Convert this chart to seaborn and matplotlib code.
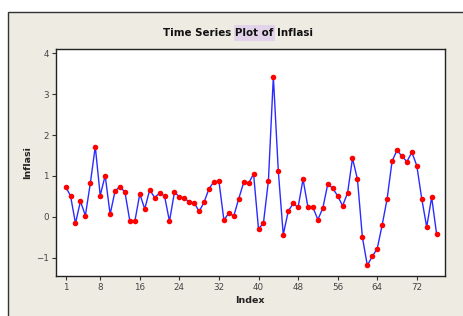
import matplotlib
matplotlib.use('Agg')
import matplotlib.pyplot as plt
import matplotlib.patches as patches
import seaborn as sns
import pandas as pd
import numpy as np

inflasi = [0.74, 0.51, -0.16, 0.38, 0.03, 0.82, 1.72, 0.52, 1.01, 0.06,
           0.63, 0.74, 0.60, -0.11, -0.11, 0.56, 0.19, 0.66, 0.47, 0.58,
           0.51, -0.11, 0.60, 0.49, 0.46, 0.36, 0.34, 0.13, 0.36, 0.69,
           0.86, 0.87, -0.08, 0.09, 0.02, 0.44, 0.84, 0.82, 1.05, -0.30,
           -0.15, 0.88, 3.43, 1.12, -0.44, 0.13, 0.33, 0.23, 0.92, 0.23,
           0.23, -0.07, 0.21, 0.80, 0.70, 0.51, 0.27, 0.58, 1.43, 0.92,
           -0.50, -1.19, -0.97, -0.78, -0.20, 0.44, 1.36, 1.63, 1.48, 1.35,
           1.58, 1.25, 0.44, -0.25, 0.48, -0.42]
index = list(range(1, len(inflasi) + 1))
x_ticks = [1, 8, 16, 24, 32, 40, 48, 56, 64, 72]
y_ticks = [-1, 0, 1, 2, 3, 4]

df = pd.DataFrame({'Index': index, 'Inflasi': inflasi})

sns.set_style('white')
plt.rcParams['font.family'] = ['DejaVu Sans']

W, H = 464, 316
fig = plt.figure(figsize=(W / 100, H / 100), dpi=100, facecolor='white')

# beige panel with frame (Minitab style)
frame = patches.Rectangle((8 / W, -0.01), 1.0, 1 - 12 / H + 0.01,
                          transform=fig.transFigure, facecolor='#EEEBE2',
                          edgecolor='#333333', linewidth=1.0, zorder=0)
fig.patches.append(frame)

ax = fig.add_axes([55.7 / W, 1 - 276 / H, (445 - 55.7) / W, (276 - 49.3) / H])
ax.set_zorder(5)
ax.set_facecolor('white')

sns.lineplot(data=df, x='Index', y='Inflasi', ax=ax, color='#2b2bff',
             linewidth=1.0, marker='o', markersize=4.0,
             markerfacecolor='#ff0000', markeredgecolor='#ff0000',
             markeredgewidth=0)

ax.set_xlim(-1.0, 77.7)
ax.set_ylim(-1.45, 4.1)
ax.set_xticks(x_ticks)
ax.set_yticks(y_ticks)
ax.tick_params(axis='both', which='major', labelsize=6.3, colors='#333333',
               length=3, width=0.8, direction='out', pad=2,
               bottom=True, left=True)
ax.tick_params(axis='both', labelcolor='#444444')
for s in ax.spines.values():
    s.set_color('#222222')
    s.set_linewidth(1.0)

ax.set_xlabel('Index', fontsize=6.8, fontweight='bold', color='#222222',
              labelpad=3)
ax.set_ylabel('Inflasi', fontsize=6.8, fontweight='bold', color='#222222',
              labelpad=3)

# title with highlighted "Plot of"
title = 'Time Series Plot of Inflasi'
tx, ty = 238.5 / W, 1 - 33 / H
t = fig.text(tx, ty, title, ha='center', va='center', fontsize=7.4,
             fontweight='bold', color='#111111', zorder=3)
fig.canvas.draw()
r = fig.canvas.get_renderer()


def width_of(s):
    tmp = fig.text(0, 0, s, fontsize=7.4, fontweight='bold')
    w = tmp.get_window_extent(renderer=r).width
    tmp.remove()
    return w


bb = t.get_window_extent(renderer=r)
x0 = bb.x0 + width_of('Time Series P') - width_of('P') - 1
x1 = bb.x0 + width_of('Time Series Plot of') + 1
hl = patches.Rectangle((x0 / W, bb.y0 / H - 3 / H), (x1 - x0) / W,
                       (bb.height + 6) / H, transform=fig.transFigure,
                       facecolor='#E2D3EA', edgecolor='none', zorder=2)
fig.patches.append(hl)

fig.savefig('out.png', dpi=100, facecolor='white')
